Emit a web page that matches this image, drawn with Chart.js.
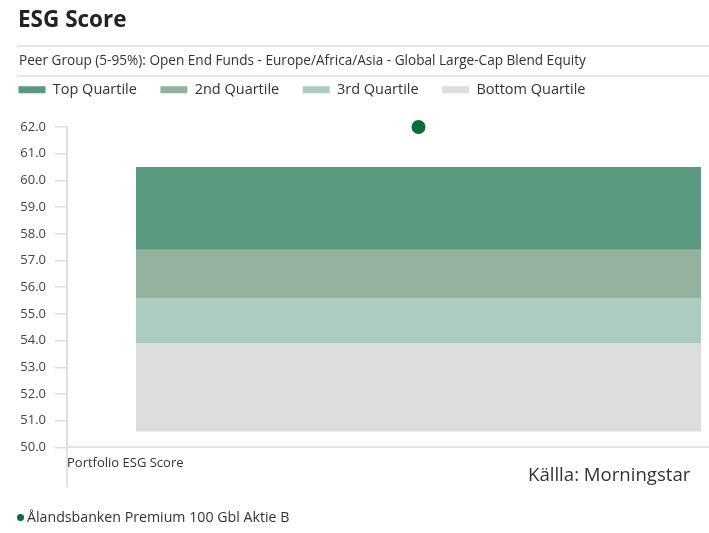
<!DOCTYPE html>
<html>
<head>
<meta charset="utf-8">
<script src="https://cdn.jsdelivr.net/npm/chart.js@4/dist/chart.umd.min.js"></script>
<style>
html,body{margin:0;padding:0;background:#fff;}
body{width:709px;height:533px;overflow:hidden;position:relative;font-family:"Open Sans",sans-serif;color:#333;}
.t{position:absolute;line-height:1;white-space:nowrap;}
.rule{position:absolute;left:17px;right:0;height:2px;background:#e6e6e6;}
#wrap{position:absolute;left:0;top:0;width:777px;height:533px;}
#dot{display:inline-block;width:7px;height:7px;border-radius:50%;background:#0b6b3a;margin-right:3px;vertical-align:1px;}
</style>
</head>
<body>
<div id="wrap"><canvas id="c" width="777" height="533"></canvas></div>
<div class="t" style="left:18px;top:8px;font-size:22.5px;font-weight:700;color:#222">ESG Score</div>
<div class="rule" style="top:45px"></div>
<div class="t" style="left:19px;top:53px;font-size:13.6px;color:#333">Peer Group (5-95%): Open End Funds - Europe/Africa/Asia - Global Large-Cap Blend Equity</div>
<div class="rule" style="top:75px"></div>
<div class="t" style="left:528px;top:465px;font-size:18.6px;color:#333">Källla: Morningstar</div>
<div class="t" style="left:17px;top:510px;font-size:14.2px;color:#333"><span id="dot"></span><span id="fundLabel"></span></div>
<script>
// ---- data ----
const categories = ['Portfolio ESG Score'];
const quartileNames = ['Top Quartile', '2nd Quartile', '3rd Quartile', 'Bottom Quartile'];
const topQuartile = [57.4, 60.5];
const secondQuartile = [55.6, 57.4];
const thirdQuartile = [53.9, 55.6];
const bottomQuartile = [50.6, 53.9];
const fundName = 'Ålandsbanken Premium 100 Gbl Aktie B';
const fundScore = [62.0];
const yTicks = [50, 51, 52, 53, 54, 55, 56, 57, 58, 59, 60, 61, 62];

// ---- styles ----
const quartileColors = ['#5b9880', '#94b2a0', '#abccbf', '#dddddd'];
const fundColor = '#0b6b3a';
const FONT = '"Open Sans", sans-serif';

document.getElementById('fundLabel').textContent = fundName;

function draw() {
  Chart.defaults.font.family = FONT;
  const ranges = [topQuartile, secondQuartile, thirdQuartile, bottomQuartile];
  const datasets = quartileNames.map((name, i) => ({
    type: 'bar',
    label: name,
    data: [ranges[i]],
    backgroundColor: quartileColors[i],
    borderWidth: 0,
    categoryPercentage: 1,
    barPercentage: 0.8037,
    order: 2
  }));
  datasets.push({
    type: 'line',
    label: fundName,
    data: fundScore,
    showLine: false,
    pointRadius: 7,
    pointHoverRadius: 7,
    pointBackgroundColor: fundColor,
    pointBorderWidth: 0,
    borderColor: fundColor,
    clip: false,
    order: 0
  });

  const axisExtension = {
    id: 'axisExtension',
    afterDraw(chart) {
      const {ctx, chartArea} = chart;
      ctx.save();
      ctx.strokeStyle = '#e3e3e3';
      ctx.lineWidth = 2;
      ctx.beginPath();
      ctx.moveTo(chartArea.left, chartArea.bottom);
      ctx.lineTo(chartArea.left, chartArea.bottom + 40);
      ctx.stroke();
      ctx.restore();
    }
  };
  const legendGap = {
    id: 'legendGap',
    beforeLayout(chart) {
      const lg = chart.legend;
      if (lg && !lg._gapPatched) {
        const f = lg.fit;
        lg.fit = function () { f.call(this); this.height += 20; };
        lg._gapPatched = true;
      }
    }
  };

  new Chart(document.getElementById('c'), {
    data: {labels: categories, datasets},
    plugins: [axisExtension, legendGap],
    options: {
      responsive: false,
      animation: false,
      devicePixelRatio: 1,
      events: [],
      layout: {padding: {top: 59, left: -5, right: 0, bottom: 62}},
      plugins: {
        tooltip: {enabled: false},
        legend: {
          position: 'top',
          align: 'start',
          labels: {
            filter: (item) => item.datasetIndex < quartileNames.length,
            boxWidth: 27,
            boxHeight: 7,
            padding: 23.5,
            color: '#333',
            font: {size: 14.5, family: FONT}
          }
        }
      },
      scales: {
        x: {
          type: 'category',
          stacked: true,
          offset: true,
          ticks: {display: false},
          grid: {display: false, drawTicks: false},
          border: {display: true, color: '#e3e3e3', width: 2},
          title: {
            display: true,
            text: categories[0],
            align: 'start',
            color: '#333',
            font: {size: 13, family: FONT},
            padding: {top: 8, bottom: 0}
          }
        },
        y: {
          min: 50,
          max: 62,
          afterBuildTicks: (s) => { s.ticks = yTicks.map(v => ({value: v})); },
          afterFit: (s) => { s.width = 72; },
          ticks: {
            callback: (v) => Number(v).toFixed(1),
            color: '#444',
            font: {size: 13, family: FONT},
            padding: 9
          },
          grid: {drawOnChartArea: false, tickLength: 12, color: '#dedede', lineWidth: 1.5},
          border: {color: '#dedede', width: 2}
        }
      }
    }
  });
}

Promise.all([
  document.fonts.load('13px "Open Sans"'),
  document.fonts.load('bold 22px "Open Sans"')
]).then(draw, draw);
</script>
</body>
</html>
